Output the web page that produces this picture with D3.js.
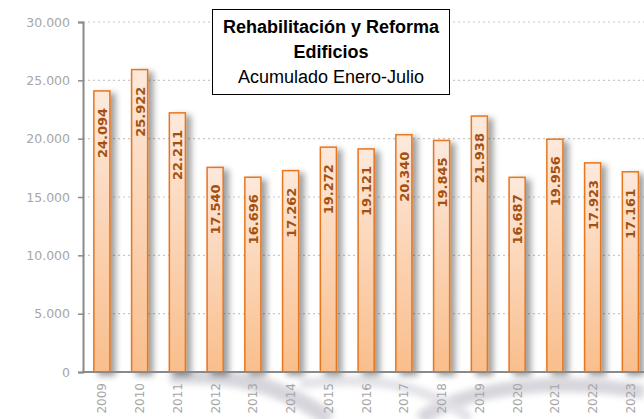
<!DOCTYPE html>
<html><head><meta charset="utf-8">
<script src="https://cdn.jsdelivr.net/npm/d3@7"></script>
<style>body{margin:0;background:#fff}svg{display:block}</style>
</head><body><svg id="c" width="644" height="419"></svg>
<script>
const years = ["2009","2010","2011","2012","2013","2014","2015","2016","2017","2018","2019","2020","2021","2022","2023"];
const values = [24094,25922,22211,17540,16696,17262,19272,19121,20340,19845,21938,16687,19956,17923,17161];
const yTicks = [0,5000,10000,15000,20000,25000,30000];
const titleLines = ["Rehabilitación y Reforma","Edificios","Acumulado Enero-Julio"];

const svg = d3.select("#c");
const W = 644, H = 419;
const x = d3.scaleBand().domain(years).range([83, 649.25]).paddingInner(0.575).paddingOuter(0.2875);
const y = d3.scaleLinear().domain([0,30000]).range([372, 22]);
const fmt = v => d3.format(",")(v).replace(/,/g,".");

const defs = svg.append("defs");
const g = defs.append("linearGradient").attr("id","bg").attr("x1",0).attr("y1",0).attr("x2",0).attr("y2",1);
g.append("stop").attr("offset","0%").attr("stop-color","#fde9dc");
g.append("stop").attr("offset","100%").attr("stop-color","#f9be8c");
const f = defs.append("filter").attr("id","sh").attr("x","-50%").attr("y","-20%").attr("width","250%").attr("height","150%");
f.append("feDropShadow").attr("dx",5).attr("dy",3).attr("stdDeviation",3).attr("flood-color","#000").attr("flood-opacity",0.38);
const wf = defs.append("filter").attr("id","blur");
wf.append("feGaussianBlur").attr("stdDeviation",3);

// watermark below axis
const wm = svg.append("g").attr("filter","url(#blur)").attr("opacity",0.4);
wm.append("path").attr("d","M170,376 C260,372 300,400 330,419").attr("stroke","#9a98a8").attr("stroke-width",16).attr("fill","none");
wm.append("path").attr("d","M420,419 C470,385 560,378 644,392").attr("stroke","#9a98a8").attr("stroke-width",14).attr("fill","none");
wm.append("path").attr("d","M300,384 C360,376 420,380 470,419").attr("stroke","#b8b6c4").attr("stroke-width",10).attr("fill","none");

// grid
svg.append("g").selectAll("line").data(yTicks.filter(d=>d>0)).join("line")
  .attr("x1",83).attr("x2",W).attr("y1",d=>y(d)).attr("y2",d=>y(d))
  .attr("stroke","#c8c8c8").attr("stroke-width",1.2).attr("stroke-dasharray","2,3");

// y axis
const ya = svg.append("g").attr("transform","translate(83,0)")
  .call(d3.axisLeft(y).tickValues(yTicks).tickFormat(fmt).tickSize(5).tickPadding(8));
ya.select(".domain").attr("stroke","#8a8a8a").attr("stroke-width",2);
ya.selectAll(".tick line").attr("stroke","#8a8a8a").attr("stroke-width",1.5);
ya.selectAll(".tick text").attr("fill","#a6a6a6").attr("font-family","DejaVu Sans, Verdana, sans-serif").attr("font-size",12.5);

// bars
svg.append("g").selectAll("rect").data(values).join("rect")
  .attr("x",(d,i)=>x(years[i])).attr("width",x.bandwidth())
  .attr("y",d=>y(d)).attr("height",d=>y(0)-y(d))
  .attr("fill","url(#bg)").attr("stroke","#e8761e").attr("stroke-width",1.5)
  .attr("filter","url(#sh)");

// x axis baseline
svg.append("line").attr("x1",82).attr("x2",W).attr("y1",372).attr("y2",372)
  .attr("stroke","#8a8a8a").attr("stroke-width",2);

// x labels
svg.append("g").selectAll("text").data(years).join("text")
  .attr("transform",d=>`translate(${x(d)+x.bandwidth()/2+4.5},${383}) rotate(-90)`)
  .attr("text-anchor","end").attr("fill","#a6a6a6")
  .attr("font-family","DejaVu Sans, Verdana, sans-serif").attr("font-size",12)
  .text(d=>d);

// value labels
svg.append("g").selectAll("text").data(values).join("text")
  .attr("transform",(d,i)=>`translate(${x(years[i])+x.bandwidth()/2+5},${y(d)+17}) rotate(-90)`)
  .attr("text-anchor","end").attr("fill","#a4500f").attr("font-weight","bold")
  .attr("font-family","DejaVu Sans, Verdana, sans-serif").attr("font-size",13)
  .text(d=>fmt(d));

// title box
const tb = svg.append("g");
tb.append("rect").attr("x",212.5).attr("y",9.5).attr("width",237).attr("height",85)
  .attr("fill","#fff").attr("stroke","#000").attr("stroke-width",1);
tb.selectAll("text").data(titleLines).join("text")
  .attr("x",331).attr("y",(d,i)=>33+i*25).attr("text-anchor","middle")
  .attr("font-family","Liberation Sans Narrow, Arial Narrow, Liberation Sans, sans-serif")
  .attr("font-size",18).attr("font-weight",(d,i)=>i<2?"bold":"normal").attr("fill","#000")
  .text(d=>d);
</script></body></html>
